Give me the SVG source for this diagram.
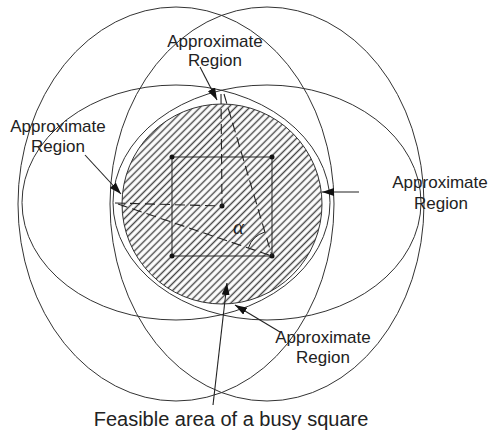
<svg xmlns="http://www.w3.org/2000/svg" width="489" height="436" viewBox="0 0 489 436">
<defs>
<pattern id="hatch" patternUnits="userSpaceOnUse" width="5" height="5" patternTransform="rotate(45)">
<rect width="5" height="5" fill="#fff"/>
<line x1="2.5" y1="0" x2="2.5" y2="5" stroke="#444" stroke-width="1.4"/>
</pattern>
<marker id="ah" markerUnits="userSpaceOnUse" markerWidth="14" markerHeight="10" refX="12" refY="4" orient="auto">
<path d="M0,0 L12,4 L0,8 Z" fill="#111"/>
</marker>
</defs>
<style>
.c{fill:none;stroke:#333;stroke-width:1}
.d{fill:none;stroke:#222;stroke-width:1.1;stroke-dasharray:10,5}
.s{fill:none;stroke:#222;stroke-width:1}
.a{fill:none;stroke:#222;stroke-width:1.1;marker-end:url(#ah)}
.t{font-family:"Liberation Sans",Arial,sans-serif;font-size:17px;fill:#222;text-anchor:middle}
.dot{fill:#111}
</style>
<rect width="489" height="436" fill="#fff"/>
<g id="ranges">
<ellipse id="rangeA" class="c" cx="176" cy="204" rx="158" ry="197"/>
<ellipse id="rangeB" class="c" cx="267" cy="204" rx="157" ry="197"/>
<ellipse id="rangeE" class="c" cx="176" cy="202.5" rx="154" ry="117.5"/>
<ellipse id="rangeF" class="c" cx="267" cy="202.5" rx="154" ry="117.5"/>
</g>
<g id="feasible">
<circle cx="222" cy="204" r="100" fill="url(#hatch)" stroke="#333" stroke-width="1"/>
</g>
<g id="square">
<rect class="s" x="172" y="157" width="100" height="99"/>
<circle class="dot" cx="172" cy="157" r="2.5"/>
<circle class="dot" cx="272" cy="157" r="2.5"/>
<circle class="dot" cx="172" cy="256" r="2.5"/>
<circle class="dot" cx="272" cy="256" r="2.5"/>
<circle class="dot" cx="222" cy="206" r="2.5"/>
</g>
<g id="geometry">
<line class="d" x1="221" y1="94" x2="222" y2="206"/>
<line class="d" x1="224" y1="94" x2="272" y2="256"/>
<line class="d" x1="115" y1="203" x2="222" y2="206"/>
<line class="d" x1="118" y1="204" x2="272" y2="256"/>
<path class="s" d="M264.7,232.1 A25,25 0 0 0 248.4,247.9"/>
<text x="233" y="234" font-family="'Liberation Serif',serif" font-style="italic" font-size="21" fill="#222">α</text>
</g>
<g id="connectors">
<line class="a" x1="200" y1="67" x2="217" y2="100"/>
<line class="a" x1="85" y1="155" x2="121" y2="194"/>
<line class="a" x1="359" y1="192" x2="322" y2="192"/>
<line class="a" x1="280" y1="332" x2="235" y2="305"/>
<line class="a" x1="213" y1="405" x2="227" y2="283"/>
</g>
<g id="label-top">
<text class="t" x="215" y="47">Approximate</text>
<text class="t" x="215" y="66">Region</text>
</g>
<g id="label-left">
<text class="t" x="58" y="132">Approximate</text>
<text class="t" x="58" y="152">Region</text>
</g>
<g id="label-right">
<text class="t" x="440" y="188">Approximate</text>
<text class="t" x="441" y="209">Region</text>
</g>
<g id="label-bottom-right">
<text class="t" x="323" y="343">Approximate</text>
<text class="t" x="323" y="363">Region</text>
</g>
<g id="label-feasible">
<text class="t" x="231" y="426" style="font-size:20px">Feasible area of a busy square</text>
</g>
</svg>
